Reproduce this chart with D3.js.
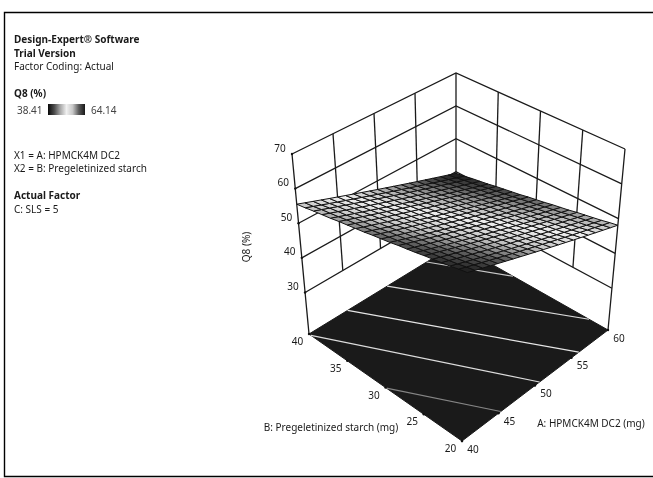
<!DOCTYPE html>
<html><head><meta charset="utf-8">
<script src="https://cdn.jsdelivr.net/npm/d3@7/dist/d3.min.js"></script>
<style>
html,body{margin:0;padding:0;background:#fff}
svg{display:block;filter:blur(0.35px)}
text{font-family:"Noto Sans",sans-serif;font-size:10px;fill:#1a1a1a}
</style></head><body>
<svg id="c" width="653" height="478"></svg>
<script>
// ---------- data ----------
const infoLines = [
  ["Design-Expert® Software", true, 39],
  ["Trial Version", true, 53],
  ["Factor Coding: Actual", false, 66],
  ["Q8 (%)", true, 93],
  ["X1 = A: HPMCK4M DC2", false, 155],
  ["X2 = B: Pregeletinized starch", false, 168],
  ["Actual Factor", true, 195],
  ["C: SLS = 5", false, 209]
];
const legendRange = [38.41, 64.14];
const aTicks = [40, 45, 50, 55, 60];
const bTicks = [20, 25, 30, 35, 40];
const zTicks = [30, 40, 50, 60, 70];
const contourLevels = [42.7, 47.0, 51.3, 55.6, 59.85];
const aTitle = "A: HPMCK4M DC2 (mg)";
const bTitle = "B: Pregeletinized starch (mg)";
const zTitle = "Q8 (%)";
// Q8 read across the surface mesh: rows B = 20..40 (step 1), columns A = 40..60 (step 1)
const q8Surface = [
[64.1,63.3,62.5,61.7,60.9,60.1,59.3,58.5,57.7,56.9,56.1,55.3,54.5,53.7,52.9,52.1,51.3,50.5,49.7,48.9,48.1],
[63.7,62.9,62.1,61.3,60.5,59.7,58.9,58.1,57.3,56.5,55.7,54.9,54.1,53.3,52.5,51.7,50.9,50.1,49.3,48.5,47.7],
[63.2,62.4,61.6,60.8,60.0,59.2,58.4,57.6,56.8,56.0,55.2,54.4,53.6,52.8,52.0,51.2,50.4,49.6,48.8,48.0,47.2],
[62.8,62.0,61.2,60.4,59.6,58.8,58.0,57.2,56.4,55.6,54.8,54.0,53.2,52.4,51.6,50.8,50.0,49.2,48.4,47.6,46.8],
[62.4,61.6,60.8,60.0,59.2,58.4,57.6,56.8,56.0,55.2,54.4,53.6,52.8,52.0,51.2,50.4,49.6,48.8,48.0,47.2,46.4],
[62.0,61.2,60.4,59.6,58.8,58.0,57.2,56.4,55.6,54.8,54.0,53.2,52.4,51.6,50.8,50.0,49.2,48.4,47.6,46.8,46.0],
[61.5,60.7,59.9,59.1,58.3,57.5,56.7,55.9,55.1,54.3,53.5,52.7,51.9,51.1,50.3,49.5,48.7,47.9,47.1,46.3,45.5],
[61.1,60.3,59.5,58.7,57.9,57.1,56.3,55.5,54.7,53.9,53.1,52.3,51.5,50.7,49.9,49.1,48.3,47.5,46.7,45.9,45.1],
[60.7,59.9,59.1,58.3,57.5,56.7,55.9,55.1,54.3,53.5,52.7,51.9,51.1,50.3,49.5,48.7,47.9,47.1,46.3,45.5,44.7],
[60.2,59.4,58.6,57.8,57.0,56.2,55.4,54.6,53.8,53.0,52.2,51.4,50.6,49.8,49.0,48.2,47.4,46.6,45.8,45.0,44.2],
[59.8,59.0,58.2,57.4,56.6,55.8,55.0,54.2,53.4,52.6,51.8,51.0,50.2,49.4,48.6,47.8,47.0,46.2,45.4,44.6,43.8],
[59.4,58.6,57.8,57.0,56.2,55.4,54.6,53.8,53.0,52.2,51.4,50.6,49.8,49.0,48.2,47.4,46.6,45.8,45.0,44.2,43.4],
[58.9,58.1,57.3,56.5,55.7,54.9,54.1,53.3,52.5,51.7,50.9,50.1,49.3,48.5,47.7,46.9,46.1,45.3,44.5,43.7,42.9],
[58.5,57.7,56.9,56.1,55.3,54.5,53.7,52.9,52.1,51.3,50.5,49.7,48.9,48.1,47.3,46.5,45.7,44.9,44.1,43.3,42.5],
[58.1,57.3,56.5,55.7,54.9,54.1,53.3,52.5,51.7,50.9,50.1,49.3,48.5,47.7,46.9,46.1,45.3,44.5,43.7,42.9,42.1],
[57.7,56.9,56.1,55.3,54.5,53.7,52.9,52.1,51.3,50.5,49.7,48.9,48.1,47.3,46.5,45.7,44.9,44.1,43.3,42.5,41.7],
[57.2,56.4,55.6,54.8,54.0,53.2,52.4,51.6,50.8,50.0,49.2,48.4,47.6,46.8,46.0,45.2,44.4,43.6,42.8,42.0,41.2],
[56.8,56.0,55.2,54.4,53.6,52.8,52.0,51.2,50.4,49.6,48.8,48.0,47.2,46.4,45.6,44.8,44.0,43.2,42.4,41.6,40.8],
[56.4,55.6,54.8,54.0,53.2,52.4,51.6,50.8,50.0,49.2,48.4,47.6,46.8,46.0,45.2,44.4,43.6,42.8,42.0,41.2,40.4],
[55.9,55.1,54.3,53.5,52.7,51.9,51.1,50.3,49.5,48.7,47.9,47.1,46.3,45.5,44.7,43.9,43.1,42.3,41.5,40.7,39.9],
[55.5,54.7,53.9,53.1,52.3,51.5,50.7,49.9,49.1,48.3,47.5,46.7,45.9,45.1,44.3,43.5,42.7,41.9,41.1,40.3,39.5]
];

// ---------- layout ----------
const svg = d3.select("#c");
const FLOOR = 18, TOP = 70, WALL = 30;
const zS = (p0, p1) => d3.scaleLinear().domain([FLOOR, TOP]).range([p0, p1]);
const edges = {
  front: {x: zS(462, 468),  y: zS(441, 251)},
  right: {x: zS(608, 625),  y: zS(330, 149)},
  left:  {x: zS(309, 292),  y: zS(334, 154)},
  back:  {x: zS(456, 456),  y: zS(244, 73)}
};
const aU = d3.scaleLinear().domain([40, 60]).range([0, 1]);
const bU = d3.scaleLinear().domain([20, 40]).range([0, 1]);
function project(a, b, z) {
  const u = aU(a), v = bU(b);
  const mix = k => (1-u)*(1-v)*edges.front[k](z) + u*(1-v)*edges.right[k](z)
                 + (1-u)*v*edges.left[k](z) + u*v*edges.back[k](z);
  return [mix("x"), mix("y")];
}
const seg = d3.line();
const shade = d3.scaleLinear()
  .domain(d3.range(7).map(i => legendRange[0] + i*(legendRange[1]-legendRange[0])/6))
  .range(["#080808","#4a4a4a","#a8a8a8","#f0f0f0","#c8c8c8","#5a5a5a","#181818"]);
const lineShade = d3.scaleLinear().domain(contourLevels)
  .range(["#c8c8c8","#dcdcdc","#e6e6e6","#dcdcdc","#858585"]);
const INK = "#1a1a1a";

// frame
svg.append("path").attr("d", seg([[653,12.5],[4.5,12.5],[4.5,476.5],[653,476.5]]))
  .attr("fill","none").attr("stroke","#000").attr("stroke-width",1.4);

// left notes
infoLines.forEach(([t, bold, y]) => svg.append("text").attr("x",14).attr("y",y+3.5)
  .attr("font-weight", bold ? 700 : 400).text(t));

// legend
const grad = svg.append("defs").append("linearGradient").attr("id","lg");
shade.domain().forEach((d,i,arr) => grad.append("stop")
  .attr("offset", i/(arr.length-1)).attr("stop-color", shade(d)));
svg.append("rect").attr("x",48).attr("y",104).attr("width",37).attr("height",11).attr("fill","url(#lg)");
svg.append("text").attr("x",17).attr("y",114).style("fill","#444").text(legendRange[0].toFixed(2));
svg.append("text").attr("x",91).attr("y",114).style("fill","#444").text(legendRange[1].toFixed(2));

// walls
const walls = svg.append("g").attr("fill","none").attr("stroke",INK).attr("stroke-width",1.3);
zTicks.forEach(z => {
  walls.append("path").attr("d", seg([project(40,40,z), project(60,40,z), project(60,20,z)]));
});
aTicks.slice(1,4).forEach(a => walls.append("path").attr("d", seg([project(a,40,WALL), project(a,40,TOP)])));
bTicks.slice(1,4).forEach(b => walls.append("path").attr("d", seg([project(60,b,WALL), project(60,b,TOP)])));
[[40,40],[60,40],[60,20]].forEach(([a,b]) =>
  walls.append("path").attr("d", seg([project(a,b,FLOOR), project(a,b,TOP)])));

// floor
svg.append("path")
  .attr("d", seg([project(40,20,FLOOR),project(60,20,FLOOR),project(60,40,FLOOR),project(40,40,FLOOR)])+"Z")
  .attr("fill",INK).attr("stroke",INK).attr("stroke-width",1);

// contour lines on floor: the two extreme crossings of each level on the mesh
contourLevels.forEach(level => {
  const pts = [];
  q8Surface.forEach((row, j) => row.forEach((val, i) => {
    const nextA = row[i+1];
    if (nextA !== undefined && (val-level)*(nextA-level) <= 0)
      pts.push([40 + i + (level-val)/(nextA-val), 20 + j]);
    const nextRow = q8Surface[j+1];
    if (nextRow && (val-level)*(nextRow[i]-level) <= 0)
      pts.push([40 + i, 20 + j + (level-val)/(nextRow[i]-val)]);
  }));
  const ends = d3.extent(pts, p => p[0]).map(a => pts.find(p => p[0] === a));
  svg.append("path").attr("d", seg(ends.map(p => project(p[0],p[1],FLOOR))))
    .attr("fill","none").attr("stroke",lineShade(level)).attr("stroke-width",1.2);
});

// tick dots and labels
const ticks = svg.append("g");
const tick = (p, dx, dy, t) => {
  ticks.append("circle").attr("cx",p[0]).attr("cy",p[1]).attr("r",1.2).attr("fill","#111");
  ticks.append("text").attr("x",p[0]+dx).attr("y",p[1]+dy+3.5).attr("text-anchor","middle").text(t);
};
zTicks.forEach(z => tick(project(40,40,z), -12, -6, z));
aTicks.forEach(a => tick(project(a,20,FLOOR), 11, 8, a));
bTicks.forEach(b => tick(project(40,b,FLOOR), -11.5, 7.5, b));

// surface mesh
const mesh = svg.append("g").attr("stroke","#111").attr("stroke-width",1).attr("stroke-linejoin","round");
for (let j = 0; j < q8Surface.length-1; j++) for (let i = 0; i < q8Surface[j].length-1; i++) {
  const c = [[i,j],[i+1,j],[i+1,j+1],[i,j+1]];
  const mean = d3.mean(c, ([x,y]) => q8Surface[y][x]);
  mesh.append("path").attr("d", seg(c.map(([x,y]) => project(40+x, 20+y, q8Surface[y][x])))+"Z")
    .attr("fill", shade(mean));
}

// axis titles
svg.append("text").attr("x",591).attr("y",426.5).attr("text-anchor","middle").text(aTitle);
svg.append("text").attr("x",331).attr("y",430.5).attr("text-anchor","middle").text(bTitle);
svg.append("text").attr("transform","translate(250,247) rotate(-90)").attr("text-anchor","middle").text(zTitle);
</script>
</body></html>
